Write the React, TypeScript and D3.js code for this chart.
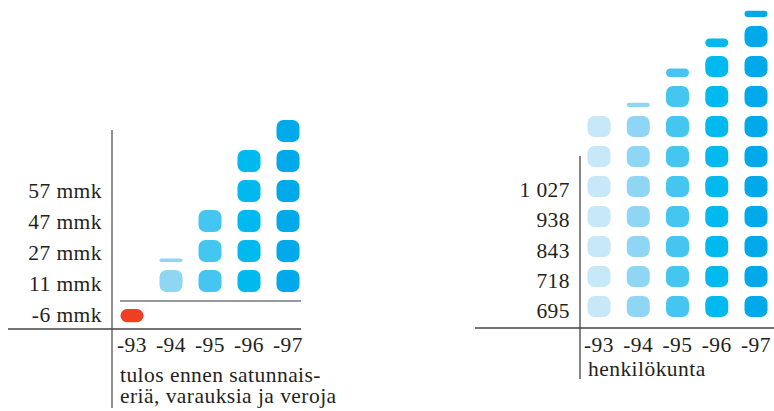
import React from "react";
import * as d3 from "d3";

const years = ["-93", "-94", "-95", "-96", "-97"];
const profitLabels = ["57 mmk", "47 mmk", "27 mmk", "11 mmk", "-6 mmk"];
const profitUnits = [-0.6, 1.1, 3, 5, 6];
const staffLabels = ["1 027", "938", "843", "718", "695"];
const staffUnits = [7, 7.2, 8.4, 9.4, 10.3];
const yearColors = ["#c6e8f8", "#8fd6f5", "#44c6f1", "#00b9ee", "#00a9e9"];
const negColor = "#ee3e24";
const profitTitle = ["tulos ennen satunnais-", "eriä, varauksia ja veroja"];
const staffTitle = ["henkilökunta"];

const FONT = '"Liberation Serif"';
const TEXT = "#231f20";

type Icon = { x: number; y: number; w: number; h: number; color: string };

function buildIcons(
  units: number[],
  xScale: d3.ScalePoint<string>,
  slotBottom: d3.ScaleLinear<number, number>,
  w: number,
  h: number,
  baseline: number,
  gap: number
): Icon[] {
  const icons: Icon[] = [];
  units.forEach((u, i) => {
    const cx = xScale(years[i]) as number;
    if (u < 0) {
      const hh = -u * h;
      icons.push({ x: cx - w / 2, y: baseline + gap, w, h: hh, color: negColor });
      return;
    }
    const full = Math.floor(u + 1e-9);
    for (let k = 0; k < full; k++) {
      const b = slotBottom(k);
      icons.push({ x: cx - w / 2, y: b - h, w, h, color: yearColors[i] });
    }
    const frac = u - full;
    if (frac > 0.01) {
      const b = slotBottom(full);
      const hh = Math.max(3.5, frac * h);
      icons.push({ x: cx - w / 2, y: b - hh, w, h: hh, color: yearColors[i] });
    }
  });
  return icons;
}

export default function App() {
  const xL = d3.scalePoint<string>().domain(years).range([132, 288]);
  const slotL = d3.scaleLinear().domain([0, 1]).range([292, 262]);
  const labelYL = d3.scalePoint<string>().domain(profitLabels).range([198, 322]);
  const iconsL = buildIcons(profitUnits, xL, slotL, 23, 22, 301, 8);

  const xR = d3.scalePoint<string>().domain(years).range([599, 756]);
  const slotR = d3.scaleLinear().domain([0, 1]).range([317, 287]);
  const labelYR = d3.scalePoint<string>().domain(staffLabels).range([197, 318]);
  const iconsR = buildIcons(staffUnits, xR, slotR, 23, 21, 328, 8);

  const ts: React.CSSProperties = {
    fontFamily: FONT,
    fontSize: "21.5px",
    fill: TEXT,
    letterSpacing: "0.45px",
  };

  return (
    <svg
      width={774}
      height={411}
      style={{ position: "absolute", left: 0, top: 0, background: "#fff" }}
    >
      {iconsL.map((d, i) => (
        <rect key={"l" + i} x={d.x} y={d.y} width={d.w} height={d.h}
          rx={Math.min(7, d.h / 2)} ry={Math.min(7, d.h / 2)} fill={d.color} />
      ))}
      <line x1={112} x2={112} y1={130} y2={408} stroke="#555" strokeWidth={1.3} />
      <line x1={8} x2={301} y1={329} y2={329} stroke="#444" strokeWidth={1.3} />
      <line x1={120} x2={301} y1={301} y2={301} stroke="#777" strokeWidth={1.3} />
      {profitLabels.map((t) => (
        <text key={t} x={102} y={labelYL(t)} textAnchor="end" style={ts}>{t}</text>
      ))}
      {years.map((y) => (
        <text key={"lx" + y} x={xL(y)} y={352} textAnchor="middle" style={ts}>{y}</text>
      ))}
      {profitTitle.map((t, i) => (
        <text key={"lt" + i} x={120} y={382 + i * 21} style={ts}>{t}</text>
      ))}

      {iconsR.map((d, i) => (
        <rect key={"r" + i} x={d.x} y={d.y} width={d.w} height={d.h}
          rx={Math.min(7, d.h / 2)} ry={Math.min(7, d.h / 2)} fill={d.color} />
      ))}
      <line x1={580} x2={580} y1={156} y2={379} stroke="#444" strokeWidth={1.3} />
      <line x1={475} x2={774} y1={328} y2={328} stroke="#444" strokeWidth={1.3} />
      {staffLabels.map((t) => (
        <text key={t} x={570} y={labelYR(t)} textAnchor="end" style={ts}>{t}</text>
      ))}
      {years.map((y) => (
        <text key={"rx" + y} x={xR(y)} y={352} textAnchor="middle" style={ts}>{y}</text>
      ))}
      {staffTitle.map((t, i) => (
        <text key={"rt" + i} x={588} y={376 + i * 21} style={ts}>{t}</text>
      ))}
    </svg>
  );
}
